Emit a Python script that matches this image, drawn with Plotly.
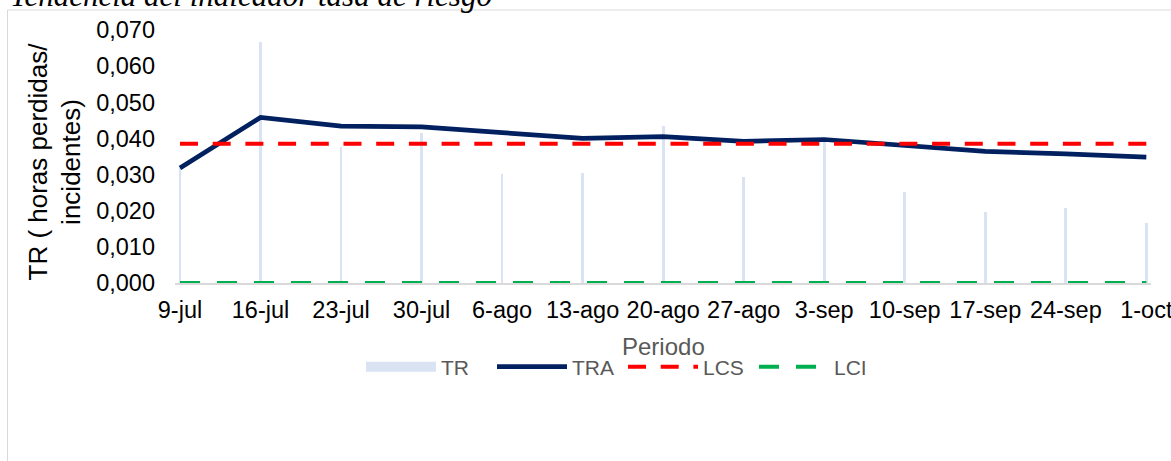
import plotly.graph_objects as go

periodos = ["9-jul", "16-jul", "23-jul", "30-jul", "6-ago", "13-ago", "20-ago",
            "27-ago", "3-sep", "10-sep", "17-sep", "24-sep", "1-oct"]
tr = [0.0318, 0.0668, 0.0376, 0.0416, 0.0302, 0.0304, 0.0434,
      0.0292, 0.0389, 0.0251, 0.0196, 0.0207, 0.0165]
tra = [0.0318, 0.0458, 0.0434, 0.0432, 0.0416, 0.0400, 0.0405,
       0.0392, 0.0397, 0.0379, 0.0364, 0.0357, 0.0348]
lcs = [0.0385] * len(periodos)
lci = [0.0] * len(periodos)
y_ticks = [0.0, 0.01, 0.02, 0.03, 0.04, 0.05, 0.06, 0.07]

W, H = 1171, 461
L, R, T, B = 175, 20, 30, 178
PW, PH = W - L - R, H - T - B


def px(x):
    return (x - L) / PW


def py(y):
    return (H - B - y) / PH


fig = go.Figure()
fig.add_trace(go.Bar(x=periodos, y=tr, name="TR", marker=dict(color="#dae3f3", line=dict(width=0)),
                     width=0.034, showlegend=False))
# legend swatch for TR
fig.add_trace(go.Scatter(x=[None], y=[None], mode="lines", name="TR",
                         line=dict(color="#dae3f3", width=13)))
fig.add_trace(go.Scatter(x=periodos, y=tra, mode="lines", name="TRA",
                         line=dict(color="#002060", width=4.7)))
fig.add_trace(go.Scatter(x=periodos, y=lcs, mode="lines", name="LCS",
                         line=dict(color="#ff0000", width=4, dash="18px,14.7px")))
fig.add_trace(go.Scatter(x=periodos, y=lci, mode="lines", name="LCI",
                         line=dict(color="#00b050", width=4, dash="20px,17px")))

fig.update_layout(
    width=W, height=H,
    margin=dict(l=L, r=R, t=T, b=B, pad=0, autoexpand=False),
    paper_bgcolor="white", plot_bgcolor="white",
    separators=",.",
    bargap=0,
    font=dict(family="Liberation Sans, Arial, sans-serif", color="#000000"),
    xaxis=dict(type="category", range=[-0.062, 12.058], showgrid=False, zeroline=False,
               showline=True, linecolor="#d9d9d9", linewidth=1.5, automargin=False,
               ticks="", ticklabelstandoff=5,
               tickfont=dict(size=23.5, color="#000000")),
    yaxis=dict(range=[0, 0.07], tickvals=y_ticks, tickformat=".3f", showgrid=False,
               zeroline=False, showline=False, ticks="", ticklabelstandoff=19, automargin=False,
               tickfont=dict(size=23.5, color="#000000")),
    showlegend=True,
    legend=dict(orientation="h", x=px(623), xanchor="center", y=py(367), yanchor="middle",
                font=dict(family="Liberation Sans Narrow, Liberation Sans, Arial", size=21, color="#595959"),
                itemwidth=70, entrywidth=46, bgcolor="rgba(0,0,0,0)", traceorder="normal"),
    shapes=[dict(type="rect", xref="paper", yref="paper",
                 x0=px(7.5), x1=px(1180), y0=py(470), y1=py(10),
                 line=dict(color="#d9d9d9", width=1), fillcolor="rgba(0,0,0,0)", layer="below")],
    annotations=[
        dict(text="Tendencia del indicador tasa de riesgo", xref="paper", yref="paper",
             x=px(8), y=py(15), xanchor="left", yanchor="bottom", showarrow=False,
             font=dict(family="Liberation Serif, Times New Roman, serif", size=31, style="italic", color="#000000")),
        dict(text="TR ( horas perdidas/<br>incidentes)", xref="paper", yref="paper",
             x=px(54.5), y=py(162), xanchor="center", yanchor="middle", textangle=-90, showarrow=False,
             font=dict(family="Liberation Sans, Arial", size=26, color="#000000")),
        dict(text="Periodo", xref="paper", yref="paper",
             x=px(663), y=py(347), xanchor="center", yanchor="middle", showarrow=False,
             font=dict(family="Liberation Sans, Arial", size=24, color="#595959")),
    ],
)

fig.write_html("out.html", config={"displayModeBar": False},
               post_script="document.body.style.margin='0';document.body.style.overflow='hidden';")
